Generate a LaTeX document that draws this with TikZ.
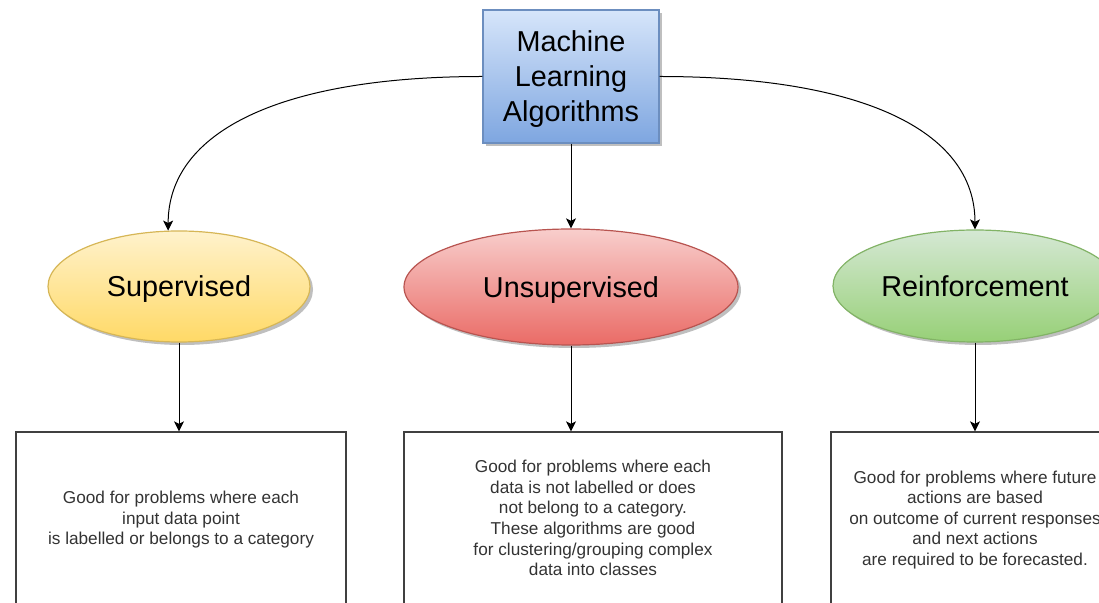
\documentclass[tikz,border=0pt]{standalone}
\usepackage{fontspec}
\setmainfont{Liberation Sans}
\usepackage{xcolor}
\usepackage{tikz}
\usetikzlibrary{shapes.geometric}
\usetikzlibrary{shadows}
\usetikzlibrary{arrows.meta}

\definecolor{mlTop}{HTML}{D6E5FA}
\definecolor{mlBot}{HTML}{7EA6E0}
\definecolor{mlLine}{HTML}{6C8EBF}
\definecolor{supTop}{HTML}{FFF2CC}
\definecolor{supBot}{HTML}{FFD966}
\definecolor{supLine}{HTML}{D6B656}
\definecolor{unsTop}{HTML}{F8CECC}
\definecolor{unsBot}{HTML}{EA6B66}
\definecolor{unsLine}{HTML}{B85450}
\definecolor{reiTop}{HTML}{D5E8D4}
\definecolor{reiBot}{HTML}{97D077}
\definecolor{reiLine}{HTML}{82B366}

\begin{document}
\begin{tikzpicture}[x=0.5pt, y=0.5pt, >={Stealth[length=5pt, width=5pt, inset=1.2pt]},
            algo/.style={rectangle, draw=mlLine, line width=0.6pt, top color=mlTop, bottom color=mlBot,
                drop shadow={shadow xshift=1.5pt, shadow yshift=-1.5pt, opacity=0.25, fill=black},
                minimum width=88pt, minimum height=66.5pt, inner sep=0pt, align=center, text depth=0pt,
                font=\fontsize{14.4}{17.5}\selectfont},
            kind/.style={ellipse, line width=0.6pt, inner sep=0pt, text depth=0pt,
                drop shadow={shadow xshift=1.5pt, shadow yshift=-1.5pt, opacity=0.25, fill=black},
                font=\fontsize{14.4}{17.5}\selectfont},
            desc/.style={rectangle, draw=black!75, line width=0.6pt, text=black!80, align=center,
                inner sep=0pt, minimum height=86pt, text depth=0pt, font=\fontsize{8.6}{10.3}\selectfont}]
            \useasboundingbox (0, 0) rectangle (1099, -603);
            \clip (0, 0) rectangle (1099, -603);

            \node (ML) at (571, -76.5) [algo] {Machine\\Learning\\Algorithms};

            \node (sup) at (179, -286.5) [kind, top color=supTop, bottom color=supBot, draw=supLine,
                minimum width=131pt, minimum height=55.5pt] {Supervised};
            \node (uns) at (571, -287) [kind, top color=unsTop, bottom color=unsBot, draw=unsLine,
                minimum width=167pt, minimum height=58pt] {Unsupervised};
            \node (rei) at (975, -286) [kind, top color=reiTop, bottom color=reiBot, draw=reiLine,
                minimum width=142pt, minimum height=56pt] {Reinforcement};

            \node (supD) at (181, -518) [desc, minimum width=165pt]
                {Good for problems where each\\input data point\\is labelled or belongs to a category};
            \node (unsD) at (593, -518) [desc, minimum width=189pt]
                {Good for problems where each\\data is not labelled or does\\not belong to a category.\\These algorithms are good\\for clustering/grouping complex\\data into classes};
            \node (reiD) at (975, -518) [desc, minimum width=144pt]
                {Good for problems where future\\actions are based\\on outcome of current responses\\and next actions\\are required to be forecasted.};

            %Curved arrows from the top box to the three kinds.
            \draw[->, line width=0.5pt] (ML.west) to [out=180, in=90, out looseness=1.46, in looseness=0.73] (sup.101);
            \draw[->, line width=0.5pt] (ML) to (uns);
            \draw[->, line width=0.5pt] (ML.east) to [out=0, in=90, out looseness=1.46, in looseness=0.73] (rei.north);

            %Each kind points down to its description.
            \draw[->, line width=0.5pt] (sup) to (sup |- supD.north);
            \draw[->, line width=0.5pt] (uns) to (uns |- unsD.north);
            \draw[->, line width=0.5pt] (rei) to (rei |- reiD.north);
        \end{tikzpicture}
\end{document}
